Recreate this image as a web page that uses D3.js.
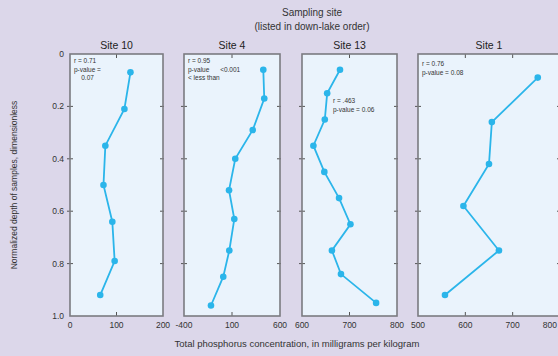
<!DOCTYPE html>
<html>
<head>
<meta charset="utf-8">
<script src="https://cdn.jsdelivr.net/npm/d3@7"></script>
<style>
  html, body { margin: 0; padding: 0; background: #dcd7ea; }
  svg { display: block; font-family: "Liberation Sans", Arial, sans-serif; }
</style>
</head>
<body>
<svg id="chart" width="558" height="356"></svg>
<script>
// site names, in down-lake order
const siteNames = ['Site 10', 'Site 4', 'Site 13', 'Site 1'];

// normalized depth of each sample
const depth10 = [0.07, 0.21, 0.35, 0.50, 0.64, 0.79, 0.92];
const depth4 = [0.06, 0.17, 0.29, 0.40, 0.52, 0.63, 0.75, 0.85, 0.96];
const depth13 = [0.06, 0.15, 0.25, 0.35, 0.45, 0.55, 0.65, 0.75, 0.84, 0.95];
const depth1 = [0.09, 0.26, 0.42, 0.58, 0.75, 0.92];

// total phosphorus, mg/kg
const phos10 = [130, 117, 76, 72, 91, 96, 65];
const phos4 = [426, 436, 316, 134, 69, 124, 72, 9, -119];
const phos13 = [680, 653, 648, 624, 647, 678, 702, 663, 682, 756];
const phos1 = [753, 656, 650, 596, 671, 557];

// x tick labels per panel
const ticks10 = [0, 100, 200];
const ticks4 = [-400, 100, 600];
const ticks13 = [600, 700, 800];
const ticks1 = [500, 600, 700, 800];

const depthTicks = [0, 0.2, 0.4, 0.6, 0.8, 1.0];

// correlation notes
const notes10 = ['r = 0.71', 'p-value =', '    0.07'];
const notes4 = ['r = 0.95', 'p-value      <0.001', '< less than'];
const notes13 = ['r = .463', 'p-value = 0.06'];
const notes1 = ['r = 0.76', 'p-value = 0.08'];

const panels = [
  {name: siteNames[0], depth: depth10, phos: phos10, ticks: ticks10, notes: notes10, left: 70, width: 93, noteX: 4, noteY: 9},
  {name: siteNames[1], depth: depth4, phos: phos4, ticks: ticks4, notes: notes4, left: 184, width: 96, noteX: 4, noteY: 9},
  {name: siteNames[2], depth: depth13, phos: phos13, ticks: ticks13, notes: notes13, left: 302, width: 95, noteX: 31, noteY: 49},
  {name: siteNames[3], depth: depth1, phos: phos1, ticks: ticks1, notes: notes1, left: 418, width: 142, noteX: 4, noteY: 12}
];

const chartWidth = 558;
const plotTop = 54;
const plotBottom = 316;
const lineColor = '#2bb5ea';
const frameColor = '#7b7b80';

const svg = d3.select('#chart');

const yScale = d3.scaleLinear().domain([0, 1]).range([plotTop, plotBottom]);

// titles
svg.append('text')
  .attr('x', 312).attr('y', 16)
  .attr('text-anchor', 'middle')
  .attr('font-size', 10).attr('fill', '#333')
  .text('Sampling site');
svg.append('text')
  .attr('x', 312).attr('y', 30)
  .attr('text-anchor', 'middle')
  .attr('font-size', 10).attr('fill', '#333')
  .text('(listed in down-lake order)');

panels.forEach((p) => {
  const xScale = d3.scaleLinear()
    .domain(d3.extent(p.ticks))
    .range([p.left, p.left + p.width]);

  const g = svg.append('g').attr('class', 'panel');

  g.append('rect')
    .attr('x', p.left).attr('y', plotTop)
    .attr('width', p.width).attr('height', plotBottom - plotTop)
    .attr('fill', '#eaf3fc');

  g.append('text')
    .attr('x', p.left + p.width / 2).attr('y', plotTop - 5)
    .attr('text-anchor', 'middle')
    .attr('font-size', 10.5).attr('fill', '#222')
    .text(p.name);

  // y ticks on both sides
  const yInner = depthTicks.slice(1, -1);
  g.selectAll('line.ytl').data(yInner).enter().append('line')
    .attr('x1', p.left - 3).attr('x2', p.left + 3)
    .attr('y1', d => yScale(d)).attr('y2', d => yScale(d))
    .attr('stroke', '#555').attr('stroke-width', 1);
  g.selectAll('line.ytr').data(yInner).enter().append('line')
    .attr('x1', p.left + p.width - 3).attr('x2', p.left + p.width + 1)
    .attr('y1', d => yScale(d)).attr('y2', d => yScale(d))
    .attr('stroke', '#555').attr('stroke-width', 1);

  // x ticks top and bottom
  const xInner = p.ticks.filter(t => xScale(t) > p.left + 2 && xScale(t) < p.left + p.width - 2);
  g.selectAll('line.xtb').data(xInner).enter().append('line')
    .attr('x1', d => xScale(d)).attr('x2', d => xScale(d))
    .attr('y1', plotBottom - 4).attr('y2', plotBottom)
    .attr('stroke', '#555').attr('stroke-width', 1);
  g.selectAll('line.xtt').data(xInner).enter().append('line')
    .attr('x1', d => xScale(d)).attr('x2', d => xScale(d))
    .attr('y1', plotTop).attr('y2', plotTop + 4)
    .attr('stroke', '#555').attr('stroke-width', 1);

  g.append('rect')
    .attr('x', p.left).attr('y', plotTop)
    .attr('width', p.width).attr('height', plotBottom - plotTop)
    .attr('fill', 'none')
    .attr('stroke', frameColor).attr('stroke-width', 1.6);

  // x tick labels (keep the last one inside the picture)
  g.selectAll('text.xl').data(p.ticks).enter().append('text')
    .attr('x', d => Math.min(xScale(d), chartWidth - 1))
    .attr('y', plotBottom + 12)
    .attr('text-anchor', d => xScale(d) + 8 > chartWidth ? 'end' : 'middle')
    .attr('font-size', 8.5).attr('fill', '#333')
    .text(d => d);

  // profile line
  const pts = p.depth.map((d, i) => [xScale(p.phos[i]), yScale(d)]);
  g.append('path')
    .attr('d', d3.line()(pts))
    .attr('fill', 'none')
    .attr('stroke', lineColor).attr('stroke-width', 1.8);
  g.selectAll('circle').data(pts).enter().append('circle')
    .attr('cx', d => d[0]).attr('cy', d => d[1])
    .attr('r', 3.3)
    .attr('fill', lineColor);

  // notes
  g.selectAll('text.note').data(p.notes).enter().append('text')
    .attr('x', p.left + p.noteX)
    .attr('y', (d, i) => plotTop + p.noteY + i * 8.5)
    .attr('font-size', 6.5).attr('fill', '#333')
    .style('white-space', 'pre')
    .text(d => d);
});

// y tick labels on first panel
svg.selectAll('text.yl').data(depthTicks).enter().append('text')
  .attr('x', 64).attr('y', d => yScale(d) + 3)
  .attr('text-anchor', 'end')
  .attr('font-size', 8.5).attr('fill', '#333')
  .text(d => d === 0 ? '0' : d.toFixed(1));

// axis labels
svg.append('text')
  .attr('transform', 'translate(17,' + ((plotTop + plotBottom) / 2) + ') rotate(-90)')
  .attr('text-anchor', 'middle')
  .attr('font-size', 8.5).attr('fill', '#333')
  .text('Normalized depth of samples, dimensionless');

svg.append('text')
  .attr('x', 297).attr('y', 347)
  .attr('text-anchor', 'middle')
  .attr('font-size', 9.5).attr('fill', '#333')
  .text('Total phosphorus concentration, in milligrams per kilogram');
</script>
</body>
</html>
